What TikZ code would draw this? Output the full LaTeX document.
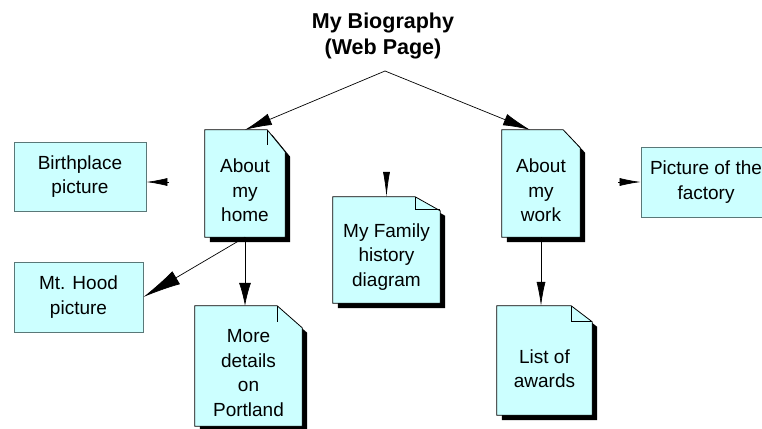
\documentclass[tikz,border=0pt]{standalone}
\usepackage{fontspec}
\setmainfont{Liberation Sans}
\usetikzlibrary{arrows.meta,calc}
\pgfdeclarelayer{background}
\pgfsetlayers{background,main}
\definecolor{cyanfill}{HTML}{CCFFFF}
\definecolor{boxline}{HTML}{5A7878}
% document shape: shadow, outline with folded corner
\newcommand\docbg[3]{%
  \fill[black] ([shift={(5,5)}]#1.north west) -- ([shift={(5-#2,5)}]#1.north east)
    -- ([shift={(5,5+#3)}]#1.north east) -- ([shift={(5,5)}]#1.south east)
    -- ([shift={(5,5)}]#1.south west) -- cycle;
  \filldraw[fill=cyanfill, draw=black, line width=0.8pt] (#1.north west)
    -- ([shift={(-#2,0)}]#1.north east) coordinate (#1-f)
    -- ([shift={(0,#3)}]#1.north east) -- (#1.south east) -- (#1.south west) -- cycle;
}
\begin{document}
\begin{tikzpicture}[x=1pt,y=-1pt,
  bodyfont/.style={font=\fontsize{19}{24.5}\selectfont},
  picbox/.style={draw=boxline, fill=cyanfill, line width=0.8pt, inner sep=0pt, align=center, bodyfont},
  docnode/.style={inner sep=0pt, draw=none},
  doctext/.style={inner sep=0pt, align=center, bodyfont},
  foldline/.style={draw=black, line width=0.8pt},
  conn/.style 2 args={draw=black, line width=0.7pt, -{Latex[length=#1,width=#2]}},
]
\useasboundingbox (0,0) rectangle (762,428);

% title
\node[font=\fontsize{21.5}{26}\selectfont\bfseries, align=center, inner sep=0pt] (title) at (383,36) {My Biography\\(Web Page)};
\coordinate (split) at (385,71);

% document pages
\node[docnode, minimum width=80pt, minimum height=107pt,
  label={[doctext,yshift=-7pt]center:{About\\my\\home}}] (home) at (245,183.5) {};
\node[docnode, minimum width=78pt, minimum height=107pt,
  label={[doctext,yshift=-7pt]center:{About\\my\\work}}] (work) at (541,183.5) {};
\node[docnode, minimum width=107pt, minimum height=120pt,
  label={[doctext,yshift=-7pt]center:{More\\details\\on\\Portland}}] (more) at (248.5,366) {};
\node[docnode, minimum width=107pt, minimum height=106pt,
  label={[doctext,yshift=-7pt]center:{My Family\\history\\diagram}}] (family) at (386.5,250) {};
\node[docnode, minimum width=95pt, minimum height=109pt,
  label={[doctext,yshift=-8pt]center:{List of\\awards}}] (list) at (544.5,360.5) {};

\begin{pgfonlayer}{background}
\docbg{home}{18}{22}
\docbg{work}{17}{18}
\docbg{more}{25}{22}
\docbg{family}{25}{14}
\docbg{list}{21}{16}
\draw[foldline] (home-f) -- ++(0,15);
\draw[foldline] (more-f) -- ++(0,16);
\draw[foldline] (family-f) -- ++(0,13) -- ++(25,0);
\draw[foldline] (list-f) -- ++(0,16) -- ++(21,0);
\end{pgfonlayer}

% picture boxes
\node[picbox, minimum width=132pt, minimum height=69pt] (birth) at (80,176.5) {Birthplace\\picture};
\node[picbox, minimum width=129pt, minimum height=70pt] (hood) at (78.5,297) {Mt. Hood\\picture};
\node[picbox, minimum width=130pt, minimum height=70pt] (factory) at (706,182) {Picture of the\\factory};

% connectors
\coordinate (bstart) at (169,182);
\coordinate (fstart) at (386.5,172);
\coordinate (pstart) at (618,182);
\draw[conn={27pt}{12pt}] (split) -- (home.north);
\draw[conn={27pt}{12pt}] (split) -- ([shift={(-11,0)}]work.north);
\draw[conn={21pt}{8pt}] (bstart) -- (birth.east |- bstart);
\draw[conn={38pt}{15pt}] (home.south) -- (hood.east);
\draw[conn={23pt}{12pt}] (home.south) -- (home.south |- more.north);
\draw[conn={25pt}{7pt}] (fstart) -- (family.north);
\draw[conn={24pt}{9pt}] (work.south) -- (work.south |- list.north);
\draw[conn={21pt}{8pt}] (pstart) -- (factory.west |- pstart);
\end{tikzpicture}
\end{document}
